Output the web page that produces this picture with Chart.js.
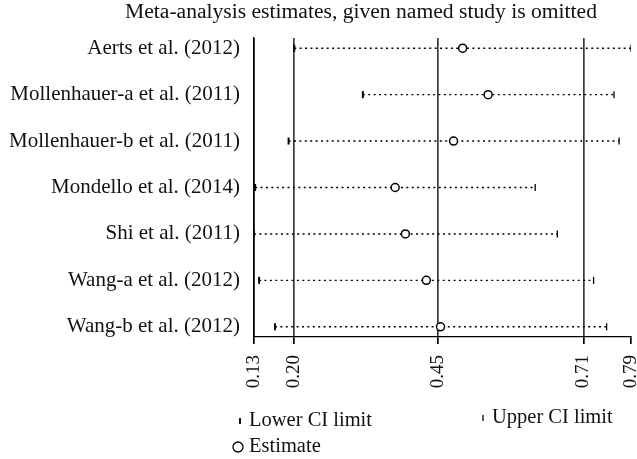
<!DOCTYPE html>
<html>
<head>
<meta charset="utf-8">
<script src="https://cdn.jsdelivr.net/npm/chart.js@4.4.1/dist/chart.umd.min.js"></script>
<style>
    body { margin: 0; background: #fff; }
    #wrap { width: 637px; height: 459px; }
</style>
</head>
<body>
<div id="wrap"><canvas id="sensChart" width="637" height="459"></canvas></div>
<script>
// values
const studies = [
    'Aerts et al. (2012)',
    'Mollenhauer-a et al. (2011)',
    'Mollenhauer-b et al. (2011)',
    'Mondello et al. (2014)',
    'Shi et al. (2011)',
    'Wang-a et al. (2012)',
    'Wang-b et al. (2012)'
];
const lowerCI = [0.200, 0.321, 0.190, 0.131, 0.129, 0.138, 0.166];
const estimates = [0.497, 0.542, 0.481, 0.378, 0.396, 0.433, 0.458];
const upperCI = [0.794, 0.764, 0.773, 0.625, 0.664, 0.728, 0.751];
const tickValues = [0.129, 0.200, 0.454, 0.710, 0.794];
const refLines = [0.200, 0.454, 0.710];

const titleText = 'Meta-analysis estimates, given named study is omitted';
const serif = "'Liberation Serif', 'DejaVu Serif', serif";

class SensitivityChart {
    constructor() {
        this.ctx = document.getElementById('sensChart').getContext('2d');
        this.createChart();
    }

    buildDatasets() {
        const rows = (arr) => arr.map((v, i) => ({ x: v, y: i }));

        // dotted CI segment for each omitted study
        const segments = studies.map((s, i) => ({
            label: s,
            data: [{ x: lowerCI[i], y: i }, { x: upperCI[i], y: i }],
            showLine: true,
            borderColor: '#000',
            borderWidth: 1.4,
            borderDash: [2, 3.4],
            pointRadius: 0,
            order: 5
        }));

        return [
            {
                label: 'Estimate',
                data: rows(estimates),
                pointStyle: 'circle',
                pointRadius: 4,
                pointBorderWidth: 1.5,
                pointBackgroundColor: '#fff',
                pointBorderColor: '#000',
                order: 0
            },
            {
                label: 'Lower CI limit',
                data: rows(lowerCI),
                pointStyle: 'line',
                rotation: 90,
                pointRadius: 3.5,
                pointBorderWidth: 2,
                pointBorderColor: '#000',
                order: 1
            },
            {
                label: 'Upper CI limit',
                data: rows(upperCI),
                pointStyle: 'line',
                rotation: 90,
                pointRadius: 3.5,
                pointBorderWidth: 1.3,
                pointBorderColor: '#000',
                order: 1
            },
            ...segments
        ];
    }

    createChart() {
        const titlePlugin = {
            id: 'plotTitle',
            afterDraw(chart) {
                const c = chart.ctx;
                c.save();
                c.font = '21.6px ' + serif;
                c.fillStyle = '#111';
                c.textAlign = 'center';
                c.textBaseline = 'middle';
                c.fillText(titleText, 361, 12);
                c.restore();
            }
        };

        // legend laid out like the original (two items on top, estimate below)
        const legendPlugin = {
            id: 'ciLegend',
            afterDraw(chart) {
                const c = chart.ctx;
                c.save();
                c.font = '20.5px ' + serif;
                c.fillStyle = '#111';
                c.strokeStyle = '#000';
                c.textBaseline = 'middle';

                const tick = (x, y, w) => {
                    c.lineWidth = w;
                    c.beginPath();
                    c.moveTo(x, y - 3);
                    c.lineTo(x, y + 3);
                    c.stroke();
                };

                tick(240, 421, 1.8);
                c.fillText('Lower CI limit', 249, 421);

                tick(483, 418, 1.3);
                c.fillText('Upper CI limit', 492, 418);

                c.lineWidth = 1.3;
                c.beginPath();
                c.arc(238, 447, 5, 0, Math.PI * 2);
                c.stroke();
                c.fillText('Estimate', 249, 447);
                c.restore();
            }
        };

        this.chart = new Chart(this.ctx, {
            type: 'scatter',
            data: { datasets: this.buildDatasets() },
            options: {
                responsive: false,
                animation: false,
                layout: { padding: { left: 0, right: 5, top: 38, bottom: 0 } },
                plugins: {
                    legend: { display: false },
                    tooltip: { enabled: false },
                    title: { display: false }
                },
                scales: {
                    x: {
                        type: 'linear',
                        min: tickValues[0],
                        max: tickValues[tickValues.length - 1],
                        afterBuildTicks: (scale) => {
                            scale.ticks = tickValues.map(v => ({ value: v }));
                        },
                        afterFit: (scale) => {
                            scale.height = 122;
                            scale.paddingLeft = 0;
                            scale.paddingRight = 0;
                        },
                        ticks: {
                            callback: (v) => Number(v).toFixed(2),
                            maxRotation: 90,
                            minRotation: 90,
                            padding: 11,
                            color: '#111',
                            font: { family: serif, size: 19 }
                        },
                        grid: {
                            color: (ctx) => {
                                const v = ctx.tick ? ctx.tick.value : null;
                                if (v === tickValues[0]) return '#000';
                                return refLines.includes(v) ? '#3a3a3a' : 'rgba(0,0,0,0)';
                            },
                            lineWidth: 1.7,
                            tickColor: '#000',
                            tickLength: 7,
                            drawTicks: true
                        },
                        border: { display: true, color: '#000', width: 1.3 }
                    },
                    y: {
                        type: 'linear',
                        reverse: true,
                        min: -0.22,
                        max: studies.length - 1 + 0.22,
                        afterBuildTicks: (scale) => {
                            scale.ticks = studies.map((s, i) => ({ value: i }));
                        },
                        afterFit: (scale) => {
                            scale.width = 254;
                        },
                        ticks: {
                            callback: (v) => studies[v],
                            padding: 14,
                            color: '#111',
                            font: { family: serif, size: 21 }
                        },
                        grid: { display: false, drawTicks: false },
                        border: { display: true, color: '#000', width: 1.3 }
                    }
                }
            },
            plugins: [titlePlugin, legendPlugin]
        });
    }
}

document.addEventListener('DOMContentLoaded', () => {
    window.sensitivityChart = new SensitivityChart();
});
</script>
</body>
</html>
